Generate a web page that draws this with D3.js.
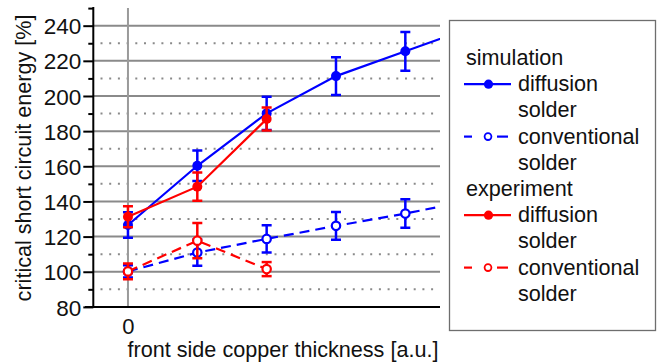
<!DOCTYPE html>
<html>
<head>
<meta charset="utf-8">
<script src="https://cdn.jsdelivr.net/npm/d3@7/dist/d3.min.js"></script>
<style>
  html, body { margin: 0; padding: 0; background: #fff; }
  svg text { font-family: "Liberation Sans", Arial, sans-serif; fill: #111; }
</style>
</head>
<body>
<svg id="chart" width="657" height="363"></svg>
<script>
// ---- data ----
const xValues = [0, 1, 2, 3, 4, 5];
const simDiffusion = [126.6, 160.3, 190.1, 211.3, 225.4, 239.5];
const simDiffusionErr = [7.3, 8.7, 9.5, 10.7, 11, null];
const simConventional = [100.2, 110.9, 118.7, 126.1, 133.1, 141];
const simConventionalErr = [3.5, 7.5, 7.8, 7.9, 8.1, null];
const expX = [0, 1, 2];
const expDiffusion = [131.3, 148.4, 186.9];
const expDiffusionErr = [6, 8, 6.5];
const expConventional = [100.2, 117.7, 101.5];
const expConventionalErr = [4.5, 10, 4];
const yMajorTicks = [80, 100, 120, 140, 160, 180, 200, 220, 240];
const yMinorTicks = [90, 110, 130, 150, 170, 190, 210, 230, 250];
const xTicks = [0];
const xTitle = "front side copper thickness [a.u.]";
const yTitle = "critical short circuit energy [%]";
const legendItems = [
  { type: "header", label: "simulation" },
  { type: "series", color: "#0000ff", dashed: false, filled: true, label: ["diffusion", "solder"] },
  { type: "series", color: "#0000ff", dashed: true, filled: false, label: ["conventional", "solder"] },
  { type: "header", label: "experiment" },
  { type: "series", color: "#ff0000", dashed: false, filled: true, label: ["diffusion", "solder"] },
  { type: "series", color: "#ff0000", dashed: true, filled: false, label: ["conventional", "solder"] }
];

const BLUE = "#0000ff", RED = "#ff0000";
const FS = 21.6;
const svg = d3.select("#chart");

const plot = { left: 93.3, right: 440, top: 8.1, bottom: 306.9 };
const x = d3.scaleLinear().domain([-0.5, 4.5]).range([plot.left, plot.right]);
const y = d3.scaleLinear().domain([80, 250]).range([plot.bottom, plot.top]);

svg.append("defs").append("clipPath").attr("id", "clip")
  .append("rect").attr("x", plot.left).attr("y", plot.top - 2)
  .attr("width", plot.right - plot.left).attr("height", plot.bottom - plot.top + 2);

// grid
const grid = svg.append("g");
grid.selectAll(".hmaj").data(yMajorTicks.filter(d => d > 80)).enter().append("line")
  .attr("x1", plot.left).attr("x2", plot.right)
  .attr("y1", d => y(d)).attr("y2", d => y(d))
  .attr("stroke", "#8a8a8a").attr("stroke-width", 2);
grid.selectAll(".hmin").data(yMinorTicks.filter(d => d < 250)).enter().append("line")
  .attr("x1", 100.5).attr("x2", plot.right - 2)
  .attr("y1", d => y(d)).attr("y2", d => y(d))
  .attr("stroke", "#8a8a8a").attr("stroke-width", 2)
  .attr("stroke-dasharray", "2,6.7");
grid.selectAll(".v").data(xTicks).enter().append("line")
  .attr("x1", d => x(d)).attr("x2", d => x(d))
  .attr("y1", plot.top).attr("y2", plot.bottom)
  .attr("stroke", "#9a9a9a").attr("stroke-width", 2);

// axes
const yAxis = d3.axisLeft(y).tickValues(yMajorTicks).tickSize(10).tickPadding(2).tickFormat(d3.format("d"));
const gy = svg.append("g").attr("transform", `translate(${plot.left},0)`).call(yAxis);
gy.select(".domain").remove();
gy.selectAll(".tick line").attr("stroke", "#000").attr("stroke-width", 2);
gy.selectAll(".tick text").attr("font-size", 22.5).attr("fill", "#111").attr("dy", "0.36em")
  .attr("font-family", "Liberation Sans, Arial, sans-serif");
const yAxisMinor = d3.axisLeft(y).tickValues(yMinorTicks).tickSize(5).tickFormat("");
const gym = svg.append("g").attr("transform", `translate(${plot.left},0)`).call(yAxisMinor);
gym.select(".domain").remove();
gym.selectAll(".tick line").attr("stroke", "#000").attr("stroke-width", 2);
svg.append("line").attr("x1", plot.left).attr("x2", plot.left)
  .attr("y1", plot.top - 1).attr("y2", plot.bottom + 1)
  .attr("stroke", "#000").attr("stroke-width", 2);
svg.append("line").attr("x1", 85).attr("x2", plot.right)
  .attr("y1", plot.bottom).attr("y2", plot.bottom)
  .attr("stroke", "#000").attr("stroke-width", 2);

const xAxis = d3.axisBottom(x).tickValues(xTicks).tickSize(0).tickPadding(11).tickFormat(d3.format("d"));
const gx = svg.append("g").attr("transform", `translate(0,${plot.bottom})`).call(xAxis);
gx.select(".domain").remove();
gx.selectAll(".tick text").attr("font-size", 22).attr("fill", "#111")
  .attr("font-family", "Liberation Sans, Arial, sans-serif");

svg.append("text").attr("x", 283).attr("y", 357).attr("text-anchor", "middle")
  .attr("font-size", FS).text(xTitle);
svg.append("text").attr("transform", `translate(31,158) rotate(-90)`)
  .attr("text-anchor", "middle").attr("font-size", FS).text(yTitle);

// series
function drawSeries(xs, vals, errs, color, dashed, filled) {
  const g = svg.append("g").attr("clip-path", "url(#clip)");
  const pts = xs.map((d, i) => ({ x: d, v: vals[i], e: errs[i] }));
  const line = d3.line().x(d => x(d.x)).y(d => y(d.v));
  g.append("path").datum(pts).attr("d", line).attr("fill", "none")
    .attr("stroke", color).attr("stroke-width", 2.2)
    .attr("stroke-dasharray", dashed ? "10,6" : null);
  const eb = pts.filter(d => d.e != null);
  g.selectAll(".eb").data(eb).enter().append("line")
    .attr("x1", d => x(d.x)).attr("x2", d => x(d.x))
    .attr("y1", d => y(d.v + d.e)).attr("y2", d => y(d.v - d.e))
    .attr("stroke", color).attr("stroke-width", 2.5);
  g.selectAll(".capt").data(eb).enter().append("line")
    .attr("x1", d => x(d.x) - 5).attr("x2", d => x(d.x) + 5)
    .attr("y1", d => y(d.v + d.e)).attr("y2", d => y(d.v + d.e))
    .attr("stroke", color).attr("stroke-width", 2.5);
  g.selectAll(".capb").data(eb).enter().append("line")
    .attr("x1", d => x(d.x) - 5).attr("x2", d => x(d.x) + 5)
    .attr("y1", d => y(d.v - d.e)).attr("y2", d => y(d.v - d.e))
    .attr("stroke", color).attr("stroke-width", 2.5);
  g.selectAll(".pt").data(pts).enter().append("circle")
    .attr("cx", d => x(d.x)).attr("cy", d => y(d.v))
    .attr("r", filled ? 5 : 4.2)
    .attr("fill", filled ? color : "#fff")
    .attr("stroke", color).attr("stroke-width", filled ? 0 : 2.2);
}
drawSeries(xValues, simConventional, simConventionalErr, BLUE, true, false);
drawSeries(xValues, simDiffusion, simDiffusionErr, BLUE, false, true);
drawSeries(expX, expConventional, expConventionalErr, RED, true, false);
drawSeries(expX, expDiffusion, expDiffusionErr, RED, false, true);

// legend
const lg = svg.append("g");
lg.append("rect").attr("x", 449.5).attr("y", 20.5).attr("width", 206).attr("height", 310)
  .attr("fill", "#fff").attr("stroke", "#6e6e6e").attr("stroke-width", 1.3);
let row = 0;
const rowY = r => 58 + r * 26.2;
legendItems.forEach(item => {
  if (item.type === "header") {
    lg.append("text").attr("x", 466).attr("y", rowY(row) + 7).attr("font-size", FS).text(item.label);
    row += 1;
  } else {
    const cy = rowY(row);
    if (item.dashed) {
      lg.append("line").attr("x1", 464).attr("x2", 472).attr("y1", cy).attr("y2", cy)
        .attr("stroke", item.color).attr("stroke-width", 2.2);
      lg.append("line").attr("x1", 497).attr("x2", 508).attr("y1", cy).attr("y2", cy)
        .attr("stroke", item.color).attr("stroke-width", 2.2);
      lg.append("circle").attr("cx", 488).attr("cy", cy).attr("r", 3.4)
        .attr("fill", "#fff").attr("stroke", item.color).attr("stroke-width", 1.8);
    } else {
      lg.append("line").attr("x1", 464).attr("x2", 511).attr("y1", cy).attr("y2", cy)
        .attr("stroke", item.color).attr("stroke-width", 2.2);
      lg.append("circle").attr("cx", 488.5).attr("cy", cy).attr("r", 4.6).attr("fill", item.color);
    }
    item.label.forEach((t, k) => {
      lg.append("text").attr("x", 518).attr("y", rowY(row + k) + 7).attr("font-size", FS).text(t);
    });
    row += item.label.length;
  }
});
</script>
</body>
</html>
